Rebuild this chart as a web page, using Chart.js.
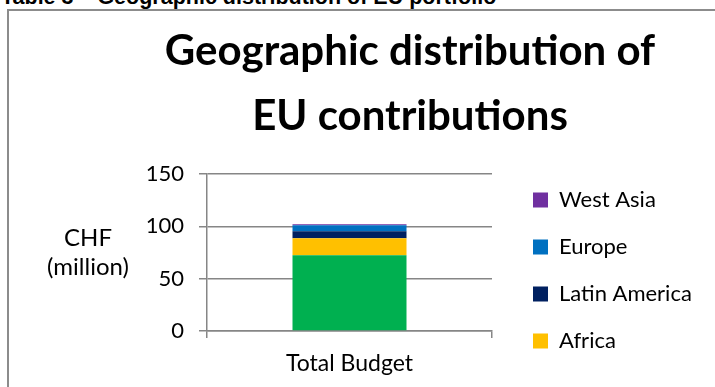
<!DOCTYPE html>
<html>
<head>
<meta charset="utf-8">
<script src="https://cdn.jsdelivr.net/npm/chart.js@4.4.1/dist/chart.umd.min.js"></script>
<style>
  html, body { margin: 0; padding: 0; overflow: hidden; background: #fff; }
  #caption {
    position: absolute; left: 1px; top: -13px;
    white-space: nowrap; color: #000;
    font: bold 21.5px/21.5px 'Liberation Sans', Arial, sans-serif;
  }
  #frame {
    position: absolute; left: 7px; top: 9px; width: 804px; height: 540px;
    border-left: 2px solid #8c8c8c; border-top: 2px solid #8c8c8c; background: #fff;
  }
  #chart { display: block; }
</style>
</head>
<body>
<div id="caption">Table 3 – Geographic distribution of EU portfolio</div>
<div id="frame"><canvas id="chart" width="802" height="519"></canvas></div>
<script>
// chart data
const categories = ['Total Budget'];
const asiaValues = [72.3];
const africaValues = [16.2];
const latinAmericaValues = [6.7];
const europeValues = [5.8];
const westAsiaValues = [1.0];
const yTicks = [0, 50, 100, 150];
const titleLines = ['Geographic distribution of', 'EU contributions'];
const yAxisLabel = ['CHF', '(million)'];

const gridColor = '#868686';
const font = 'Lato';

// horizontal y-axis title, drawn left of the tick labels
const axisLabelPlugin = {
  id: 'axisLabel',
  afterDraw(chart) {
    const { ctx, chartArea } = chart;
    const x = chartArea.left - 119;
    const mid = (chartArea.top + chartArea.bottom) / 2;
    ctx.save();
    ctx.font = '24px ' + font;
    ctx.fillStyle = '#000';
    ctx.textAlign = 'center';
    ctx.textBaseline = 'middle';
    yAxisLabel.forEach((line, i) => {
      ctx.fillText(line, x, mid + (i - (yAxisLabel.length - 1) / 2) * 29);
    });
    ctx.restore();
  }
};

const ctx = document.getElementById('chart').getContext('2d');
new Chart(ctx, {
  type: 'bar',
  data: {
    labels: categories,
    datasets: [
      { label: 'Asia', data: asiaValues, backgroundColor: '#00B050' },
      { label: 'Africa', data: africaValues, backgroundColor: '#FFC000' },
      { label: 'Latin America', data: latinAmericaValues, backgroundColor: '#002060' },
      { label: 'Europe', data: europeValues, backgroundColor: '#0070C0' },
      { label: 'West Asia', data: westAsiaValues, backgroundColor: '#7030A0' },
    ],
  },
  options: {
    responsive: false,
    animation: false,
    barPercentage: 0.4,
    categoryPercentage: 1,
    layout: { padding: 0 },
    scales: {
      x: {
        stacked: true,
        offset: true,
        grid: { drawOnChartArea: false, offset: true, tickLength: 7, color: gridColor, lineWidth: 1.5 },
        border: { color: gridColor, width: 1.5 },
        ticks: { color: '#000', font: { family: font, size: 23 }, padding: 12 },
        afterFit: (s) => { s.height = 199; },
      },
      y: {
        stacked: true,
        min: 0,
        max: 150,
        grid: { color: gridColor, lineWidth: 1.5, tickLength: 8 },
        border: { color: gridColor, width: 1.5 },
        ticks: { color: '#000', font: { family: font, size: 22 }, padding: 15 },
        afterBuildTicks: (s) => { s.ticks = yTicks.map((v) => ({ value: v })); },
        afterFit: (s) => { s.width = 198; },
      },
      // empty strip between plot and legend
      gap: {
        type: 'linear',
        position: 'right',
        display: true,
        grid: { display: false },
        border: { display: false },
        ticks: { display: false },
        afterFit: (s) => { s.width = 16; },
      },
      // empty strip right of the legend, so the title centres like the original
      edge: {
        type: 'linear',
        position: 'right',
        weight: 2000,
        display: true,
        grid: { display: false },
        border: { display: false },
        ticks: { display: false },
        afterFit: (s) => { s.width = Math.max(0, 303 - (s.chart.legend ? s.chart.legend.width : 190)); },
      },
    },
    plugins: {
      title: {
        display: true,
        text: titleLines,
        color: '#000',
        font: { family: font, size: 42, weight: 'bold', lineHeight: '65px' },
        padding: { top: 8, bottom: 25 },
      },
      legend: {
        position: 'right',
        reverse: true,
        maxWidth: 400,
        labels: {
          boxWidth: 15,
          boxHeight: 15,
          padding: 25,
          color: '#000',
          font: { family: font, size: 22 },
          filter: (item) => item.datasetIndex > 0,
        },
      },
      tooltip: { enabled: false },
    },
  },
  plugins: [axisLabelPlugin],
});
</script>
</body>
</html>
